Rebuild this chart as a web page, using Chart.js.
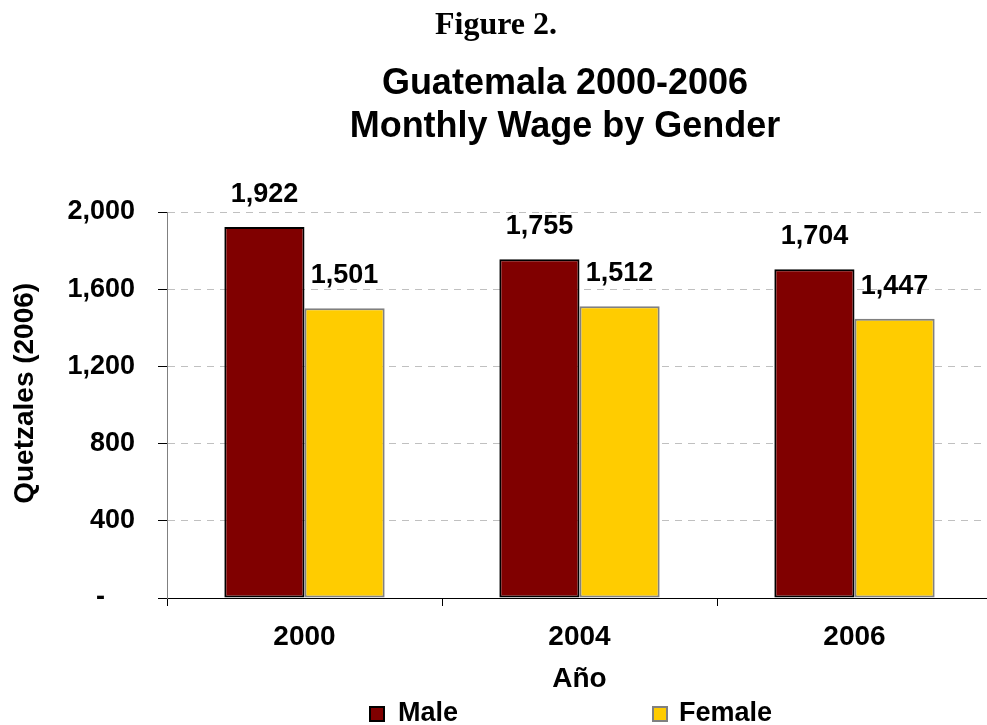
<!DOCTYPE html>
<html><head><meta charset="utf-8">
<script src="https://cdn.jsdelivr.net/npm/chart.js@4/dist/chart.umd.min.js"></script>
<style>
html,body{margin:0;padding:0;background:#fff;overflow:hidden;width:987px;height:725px}
#wrap{position:relative;width:1000px;height:725px}
</style></head>
<body><div id="wrap"><canvas id="c" width="1000" height="725"></canvas></div>
<script>
const categories = ['2000', '2004', '2006'];
const maleValues = [1922, 1755, 1704];
const femaleValues = [1501, 1512, 1447];
const yTickValues = [0, 400, 800, 1200, 1600, 2000];
const seriesNames = ['Male', 'Female'];
const figureLabel = 'Figure 2.';
const chartTitle = ['Guatemala 2000-2006', 'Monthly Wage by Gender'];
const yAxisTitle = 'Quetzales (2006)';
const xAxisTitle = 'Año';

const SANS = '"Liberation Sans", Arial, sans-serif';
const SERIF = '"Liberation Serif", "Times New Roman", serif';
const fmt = v => v === 0 ? '-    ' : v.toLocaleString('en-US');

const decor = {
  id: 'decor',
  afterDraw(chart) {
    const ctx = chart.ctx;
    ctx.save();
    ctx.fillStyle = '#000';
    ctx.textAlign = 'center';
    ctx.textBaseline = 'alphabetic';
    ctx.font = 'bold 32px ' + SERIF;
    ctx.fillText(figureLabel, 496, 34);
    ctx.font = 'bold 36px ' + SANS;
    ctx.fillText(chartTitle[0], 565, 94);
    ctx.fillText(chartTitle[1], 565, 137);
    // data labels
    ctx.font = 'bold 27px ' + SANS;
    chart.data.datasets.forEach((ds, i) => {
      const meta = chart.getDatasetMeta(i);
      meta.data.forEach((bar, j) => {
        ctx.fillText(fmt(ds.data[j]), bar.x, bar.y - 25);
      });
    });
    // legend
    const legendPos = [[369, 398], [652, 679]];
    chart.data.datasets.forEach((ds, i) => {
      const [bx, tx] = legendPos[i];
      ctx.fillStyle = ds.backgroundColor;
      ctx.fillRect(bx, 706, 16, 16);
      ctx.strokeStyle = ds.borderColor;
      ctx.lineWidth = 2;
      ctx.strokeRect(bx + 1, 707, 14, 14);
      ctx.fillStyle = '#000';
      ctx.textAlign = 'left';
      ctx.font = 'bold 27px ' + SANS;
      ctx.fillText(ds.label, tx, 721);
    });
    ctx.restore();
  }
};

new Chart(document.getElementById('c'), {
  type: 'bar',
  data: {
    labels: categories,
    datasets: [
      { label: seriesNames[0], data: maleValues, backgroundColor: '#800000', borderColor: '#000000', borderWidth: 2, borderSkipped: false },
      { label: seriesNames[1], data: femaleValues, backgroundColor: '#FFCC00', borderColor: '#808080', borderWidth: 2, borderSkipped: false }
    ]
  },
  options: {
    responsive: false,
    animation: false,
    devicePixelRatio: 1,
    layout: { padding: { top: 212, right: 8, bottom: 0, left: 0 } },
    datasets: { bar: { categoryPercentage: 0.583, barPercentage: 1.0 } },
    plugins: { legend: { display: false }, title: { display: false }, tooltip: { enabled: false } },
    scales: {
      x: {
        grid: { display: true, drawOnChartArea: false, drawTicks: true, tickLength: 8, color: '#000', offset: true },
        border: { color: '#000', width: 1 },
        ticks: { color: '#000', font: { family: SANS, size: 28, weight: 'bold' }, padding: 14, maxRotation: 0 },
        title: { display: true, text: xAxisTitle, color: '#000', font: { family: SANS, size: 28, weight: 'bold' }, padding: { top: 0, bottom: 29 } },
        afterFit: s => { s.height = 127; }
      },
      y: {
        min: 0, max: 2000,
        afterBuildTicks: s => { s.ticks = yTickValues.map(v => ({ value: v })); },
        grid: { color: '#c0c0c0', drawTicks: true, tickLength: 9, tickColor: '#000', tickBorderDash: [] },
        border: { color: '#808080', width: 1, dash: [7, 6] },
        ticks: { color: '#000', font: { family: SANS, size: 27, weight: 'bold' }, padding: 23, callback: v => fmt(v) },
        title: { display: true, text: '   ' + yAxisTitle, color: '#000', font: { family: SANS, size: 28, weight: 'bold' }, padding: { top: 8, bottom: 0 } },
        afterFit: s => { s.width = 167; }
      }
    }
  },
  plugins: [decor]
});
</script>
</body></html>
